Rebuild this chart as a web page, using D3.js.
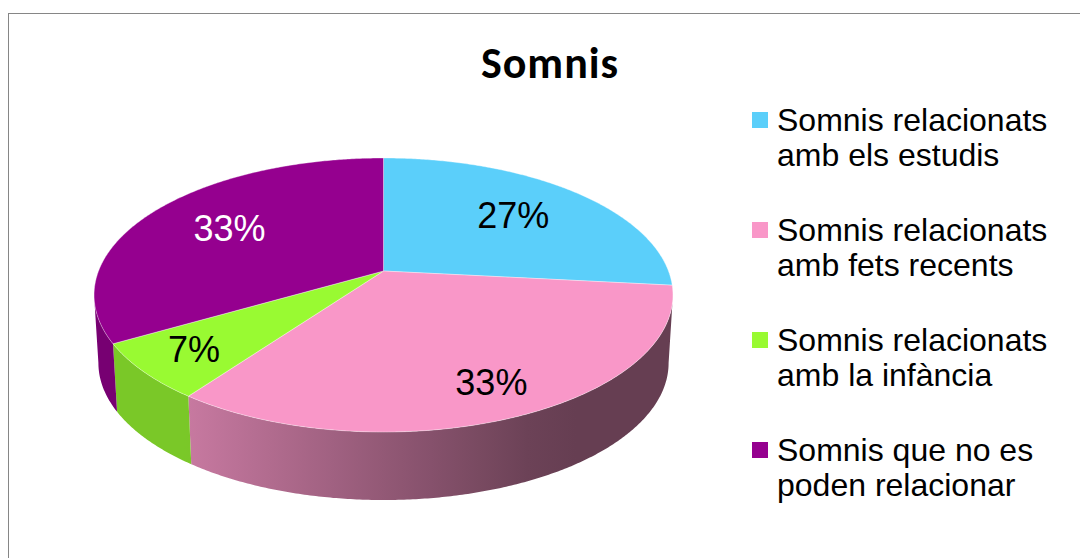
<!DOCTYPE html>
<html>
<head>
<meta charset="utf-8">
<script src="https://cdn.jsdelivr.net/npm/d3@7"></script>
<style>
  body { margin: 0; background: #fff; }
  svg { display: block; }
</style>
</head>
<body>
<div id="pie3d"></div>
<script>
// data (15 answers -> 27%, 33%, 7%, 33%)
var categories = [
  "Somnis relacionats amb els estudis",
  "Somnis relacionats amb fets recents",
  "Somnis relacionats amb la infància",
  "Somnis que no es poden relacionar"
];
var counts = [4, 5, 1, 5];
var colors = ["#5bcffa", "#f997c8", "#99fa32", "#95008f"];
var chartTitle = "Somnis";

var width = 1080, height = 558;
var font = "'Liberation Sans', Arial, sans-serif";

var svg = d3.select("#pie3d")
  .append("svg")
  .attr("width", width)
  .attr("height", height);

// chart area border (runs off the right and bottom)
svg.append("rect")
  .attr("x", 8.5).attr("y", 13.5)
  .attr("width", 1100).attr("height", 600)
  .attr("fill", "none")
  .attr("stroke", "#868686");

// title
svg.append("text")
  .attr("x", 550).attr("y", 78)
  .attr("text-anchor", "middle")
  .style("font-family", "Carlito, Lato, sans-serif")
  .style("font-weight", "bold")
  .style("font-size", "44px")
  .style("letter-spacing", "1px")
  .text(chartTitle);

// perspective view of the tilted disc
var cx = 383.5, cy = 271, k = 5.706, gx = 1626, gy = 757.8;
var depth = 68, shrink = 0.985;

function topPoint(a, r) {
  var X = r * Math.sin(a), Z = -r * Math.cos(a);
  return [cx + gx * X / (k - Z), cy + gy * Z / (k - Z)];
}
function bottomPoint(a) {
  var p = topPoint(a, 1);
  return [cx + (p[0] - cx) * shrink, p[1] + depth];
}
function arcPoints(a0, a1, fn) {
  var n = Math.max(2, Math.ceil((a1 - a0) / (Math.PI / 360)));
  return d3.range(n + 1).map(function (i) { return fn(a0 + (a1 - a0) * i / n); });
}

var color = d3.scaleOrdinal().domain(categories).range(colors);
var total = d3.sum(counts);
var pct = d3.format(".0%");

var arcs = d3.pie().sort(null).value(function (d) { return d; })(counts);
arcs.forEach(function (d, i) { d.name = categories[i]; });

var line = d3.line();

// side wall shading: lighter on the left, dark towards the right
var shade = d3.scaleLinear().domain([188, 551]).range([0.8, 0.41]).clamp(true);
function darker(c, f) {
  var rgb = d3.rgb(c);
  return d3.rgb(rgb.r * f, rgb.g * f, rgb.b * f).formatHex();
}

var defs = svg.append("defs");
var aVis = Math.acos(-1 / k); // silhouette angle of the outer wall

arcs.forEach(function (d, i) {
  var a0 = Math.max(d.startAngle, aVis), a1 = Math.min(d.endAngle, 2 * Math.PI - aVis);
  if (a1 <= a0) return;
  var topEdge = arcPoints(a0, a1, function (a) { return topPoint(a, 1); });
  var botEdge = arcPoints(a0, a1, bottomPoint).reverse();
  var pts = topEdge.concat(botEdge);
  var xs = d3.extent(pts, function (p) { return p[0]; });

  var grad = defs.append("linearGradient")
    .attr("id", "side" + i)
    .attr("gradientUnits", "userSpaceOnUse")
    .attr("x1", xs[0]).attr("x2", xs[1])
    .attr("y1", 0).attr("y2", 0);
  d3.range(11).forEach(function (s) {
    var x = xs[0] + (xs[1] - xs[0]) * s / 10;
    grad.append("stop")
      .attr("offset", s / 10)
      .attr("stop-color", darker(color(d.name), shade(x)));
  });

  svg.append("path")
    .attr("d", line(pts) + "Z")
    .attr("fill", "url(#side" + i + ")");
});

// top faces
svg.append("g")
  .selectAll("path")
  .data(arcs)
  .enter().append("path")
  .attr("d", function (d) {
    return line([[cx, cy]].concat(arcPoints(d.startAngle, d.endAngle, function (a) { return topPoint(a, 1); }))) + "Z";
  })
  .attr("fill", function (d) { return color(d.name); })
  .attr("stroke", "#fff")
  .attr("stroke-opacity", 0.6)
  .attr("stroke-width", 0.6);

// percentage labels
svg.append("g")
  .selectAll("text")
  .data(arcs)
  .enter().append("text")
  .attr("transform", function (d) {
    var mid = (d.startAngle + d.endAngle) / 2;
    var r = -Math.cos(mid) > 0 ? 0.81 : 0.66;
    var p = topPoint(mid, r);
    return "translate(" + p[0] + "," + (p[1] + 11) + ")";
  })
  .attr("text-anchor", "middle")
  .style("font-family", font)
  .style("font-size", "36px")
  .style("fill", function (d) { return d3.hsl(color(d.name)).l < 0.35 ? "#fff" : "#000"; })
  .text(function (d) { return pct(d.value / total); });

// legend
var legend = svg.append("g")
  .selectAll("g")
  .data(categories)
  .enter().append("g")
  .attr("transform", function (d, i) { return "translate(752," + (131 + i * 110) + ")"; });

legend.append("rect")
  .attr("x", 0).attr("y", -19)
  .attr("width", 16).attr("height", 16)
  .attr("fill", function (d) { return color(d); });

legend.append("text")
  .attr("x", 25)
  .style("font-family", font)
  .style("font-size", "32px")
  .style("fill", "#000")
  .each(function (d) {
    // wrap the name onto lines no wider than the legend column
    var el = d3.select(this), words = d.split(" "), lineWords = [];
    var tspan = el.append("tspan").attr("x", 25).attr("dy", 0);
    words.forEach(function (w) {
      lineWords.push(w);
      tspan.text(lineWords.join(" "));
      if (tspan.node().getComputedTextLength() > 285 && lineWords.length > 1) {
        lineWords.pop();
        tspan.text(lineWords.join(" "));
        lineWords = [w];
        tspan = el.append("tspan").attr("x", 25).attr("dy", 35).text(w);
      }
    });
  });
</script>
</body>
</html>
